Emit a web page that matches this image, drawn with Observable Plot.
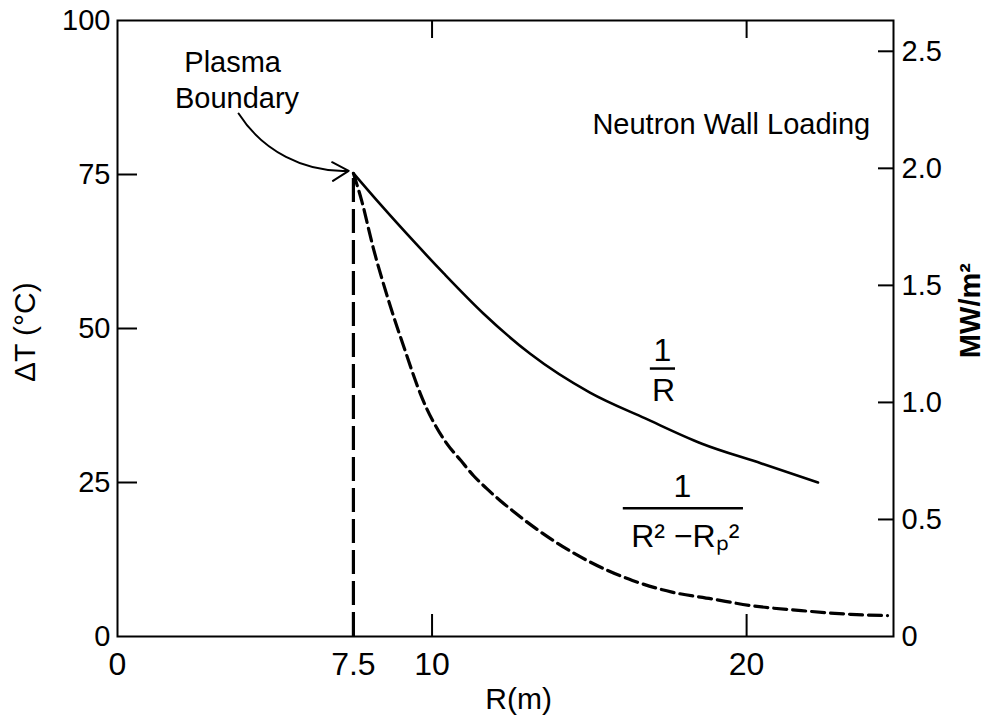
<!DOCTYPE html>
<html><head><meta charset="utf-8">
<script src="https://cdn.jsdelivr.net/npm/d3@7"></script>
<script src="https://cdn.jsdelivr.net/npm/@observablehq/plot@0.6"></script>
<style>
html,body{margin:0;padding:0;background:#fff}
#chart{position:absolute;left:0;top:0}
</style>
</head><body><div id="chart"></div>
<script>
// Radius R (m) and ΔT (°C)
const solidR = [7.5, 8.33, 9.48, 10.38, 11.64, 13.12, 15.02, 16.78, 18.58, 20.47, 22.27];
const solidT = [75.2, 70.3, 63.8, 58.9, 52.4, 45.9, 39.6, 35.4, 31.3, 28.1, 25.0];
const dashR = [7.5, 7.76, 8.13, 8.62, 9.11, 9.63, 9.83, 10.09, 10.47, 10.91, 11.32, 11.74, 12.18, 12.59, 13.12, 13.94, 15.02, 16.37, 17.63, 18.90, 20.16, 21.74, 23.31, 24.48];
const dashT = [75.2, 70.8, 63.1, 54.5, 46.9, 39.4, 37.0, 34.4, 31.3, 28.6, 26.1, 24.0, 22.0, 20.3, 18.2, 15.3, 12.1, 9.1, 7.2, 6.1, 5.0, 4.2, 3.6, 3.4];
const plasmaR = [7.5];
const plasmaTopT = 75.2;

// Axis ticks
const xTickLabels = [0, 7.5, 10, 20];
const xTickMarks = [10, 20];
const yTickLabels = [0, 25, 50, 75, 100];
const yTickMarks = [25, 50, 75];
const mwTickLabels = [0, 0.5, 1.0, 1.5, 2.0, 2.5];
const mwTickMarks = [0.5, 1.0, 1.5, 2.0, 2.5];
const degPerMW = 38; // ΔT units per MW/m² on the right axis

// Annotations (data coordinates)
const plasmaLabels = [
  {x: 3.66, y: 93.1, text: "Plasma"},
  {x: 3.80, y: 87.3, text: "Boundary"}
];
const loadingLabel = [{x: 23.93, y: 83.1, text: "Neutron Wall Loading"}];
const fracText = [
  {x: 17.32, y: 46.4, text: "1"},
  {x: 17.36, y: 39.9, text: "R"},
  {x: 17.96, y: 24.3, text: "1"},
  {x: 18.05, y: 16.2, text: "R² −Rₚ²"}
];
const fracBars = [
  {y: 43.5, x1: 16.94, x2: 17.74},
  {y: 20.8, x1: 16.08, x2: 19.90}
];
const arrowData = [{x1: 3.85, y1: 84.9, x2: 7.35, y2: 75.6}];

const solid = solidR.map((r, i) => ({r, t: solidT[i]}));
const dashed = dashR.map((r, i) => ({r, t: dashT[i]}));

const chart = Plot.plot({
  width: 989,
  height: 722,
  marginLeft: 117,
  marginRight: 96,
  marginTop: 20,
  marginBottom: 86,
  style: {fontFamily: "'Liberation Sans', Arial, sans-serif", background: "#fff", color: "#000"},
  x: {domain: [0, 24.67]},
  y: {domain: [0, 100]},
  marks: [
    Plot.frame({stroke: "#000", strokeWidth: 2}),
    // tick labels
    Plot.axisY(yTickLabels, {anchor: "left", tickSize: 0, tickPadding: 7, fontSize: 29, tickFormat: d => String(d), label: null}),
    Plot.axisX(xTickLabels, {anchor: "bottom", tickSize: 0, tickPadding: 16, fontSize: 32, tickFormat: d => String(d), label: null}),
    Plot.axisY(mwTickLabels.map(v => v * degPerMW), {anchor: "right", tickSize: 0, tickPadding: 8, fontSize: 29,
      tickFormat: d => { const v = Math.round(d / degPerMW * 10) / 10; return v === 0 ? "0" : v.toFixed(1); }, label: null}),
    // inward tick marks
    Plot.axisY(yTickMarks, {anchor: "left", tickSize: 20, dx: 20, strokeWidth: 2, tickFormat: () => "", label: null}),
    Plot.axisY(mwTickMarks.map(v => v * degPerMW), {anchor: "right", tickSize: 16, dx: -16, strokeWidth: 2, tickFormat: () => "", label: null}),
    Plot.axisX(xTickMarks, {anchor: "bottom", tickSize: 22, dy: -22, strokeWidth: 2, tickFormat: () => "", label: null}),
    Plot.axisX(xTickMarks, {anchor: "top", tickSize: 17, dy: 17, strokeWidth: 2, tickFormat: () => "", label: null}),
    // axis titles
    Plot.text(["ΔT (°C)"], {frameAnchor: "left", y: () => 49.4, dx: -92, rotate: -90, textAnchor: "middle", lineAnchor: "middle", fontSize: 30, text: d => d}),
    Plot.text(["MW/m²"], {frameAnchor: "right", y: () => 52.9, dx: 77, rotate: -90, textAnchor: "middle", lineAnchor: "middle", fontSize: 29, fontWeight: "bold", text: d => d}),
    Plot.text(["R(m)"], {frameAnchor: "bottom", x: () => 12.75, dy: 63, textAnchor: "middle", lineAnchor: "middle", fontSize: 30, text: d => d}),
    // data
    Plot.ruleX(plasmaR, {x: d => d, y1: 0, y2: plasmaTopT, stroke: "#000", strokeWidth: 3.2, strokeDasharray: "24,7"}),
    Plot.line(dashed, {x: "r", y: "t", curve: "monotone-x", stroke: "#000", strokeWidth: 3.2, strokeDasharray: "13,6"}),
    Plot.line(solid, {x: "r", y: "t", curve: "monotone-x", stroke: "#000", strokeWidth: 2.6}),
    // annotations
    Plot.arrow(arrowData, {x1: "x1", y1: "y1", x2: "x2", y2: "y2", bend: -30, stroke: "#000", strokeWidth: 2, headLength: 14}),
    Plot.text(plasmaLabels, {x: "x", y: "y", text: "text", textAnchor: "middle", lineAnchor: "middle", fontSize: 29}),
    Plot.text(loadingLabel, {x: "x", y: "y", text: "text", textAnchor: "end", lineAnchor: "middle", fontSize: 29}),
    Plot.text(fracText, {x: "x", y: "y", text: "text", textAnchor: "middle", lineAnchor: "middle", fontSize: 32}),
    Plot.ruleY(fracBars, {y: "y", x1: "x1", x2: "x2", stroke: "#000", strokeWidth: 2.5})
  ]
});
document.getElementById("chart").appendChild(chart);
</script>
</body></html>
